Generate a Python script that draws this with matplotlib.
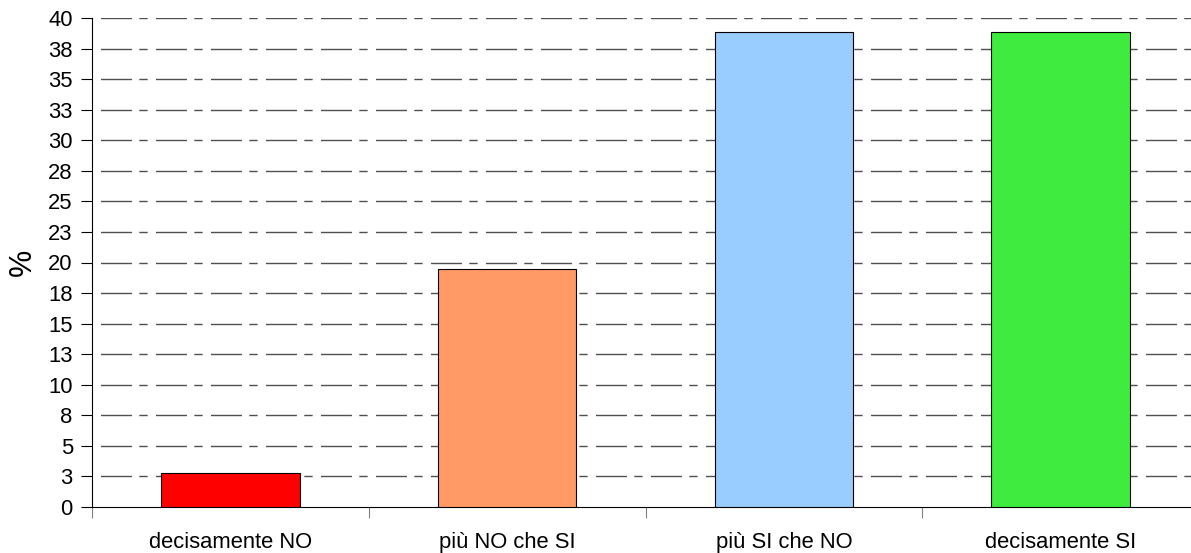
import numpy as np
import matplotlib
matplotlib.use("Agg")
import matplotlib.pyplot as plt
from matplotlib.ticker import FixedLocator, FixedFormatter, NullFormatter

# data
categories = ['decisamente NO', 'più NO che SI', 'più SI che NO', 'decisamente SI']
percent = [2.75, 19.45, 38.85, 38.85]
bar_colors = ['#FF0000', '#FF9966', '#99CCFF', '#3EEB3E']

ytick_values = [0, 2.5, 5, 7.5, 10, 12.5, 15, 17.5, 20, 22.5, 25, 27.5, 30, 32.5, 35, 37.5, 40]
ytick_labels = ['0', '3', '5', '8', '10', '13', '15', '18', '20', '23', '25', '28',
                '30', '33', '35', '38', '40']

plt.rcParams['font.family'] = ['Liberation Sans', 'DejaVu Sans']
fs = 15.8

fig = plt.figure(figsize=(11.91, 5.53), dpi=100)
ax = fig.add_axes([92.3 / 1191, 46.3 / 553, (1199 - 92.3) / 1191, (506.7 - 18.3) / 553])

x = np.arange(len(categories))
ax.bar(x, percent, width=0.5, color=bar_colors, edgecolor='black', linewidth=0.8, zorder=3)

ax.set_xlim(-0.5, len(categories) - 0.5)
ax.set_ylim(0, 40)

# y axis
ax.yaxis.set_major_locator(FixedLocator(ytick_values))
ax.yaxis.set_major_formatter(FixedFormatter(ytick_labels))
ax.tick_params(axis='y', which='major', direction='out', length=8, width=0.8,
               color='black', pad=6, labelsize=fs)

# x axis: ticks on category boundaries, labels in the middle
ax.xaxis.set_major_locator(FixedLocator(np.arange(len(categories) + 1) - 0.5))
ax.xaxis.set_major_formatter(NullFormatter())
ax.xaxis.set_minor_locator(FixedLocator(x))
ax.xaxis.set_minor_formatter(FixedFormatter(categories))
ax.tick_params(axis='x', which='major', direction='out', length=8, width=0.8, color='#808080')
ax.tick_params(axis='x', which='minor', length=0, pad=18, labelsize=fs)
ax.xaxis.get_major_ticks()[0].tick1line.set_color('black')

for s in ['top', 'right']:
    ax.spines[s].set_visible(False)
ax.spines['left'].set_linewidth(0.8)
ax.spines['bottom'].set_linewidth(0.8)

# dash-dot gridlines, skip the one at zero
for v in ytick_values[1:]:
    ax.axhline(v, color='#505050', linewidth=1.0,
               linestyle=(33.5, (22.3, 5.3, 6, 6)), zorder=1)

ax.set_ylabel('%', fontsize=22)
ax.yaxis.set_label_coords(-0.049, 0.5)

fig.savefig('out.png', dpi=100)
